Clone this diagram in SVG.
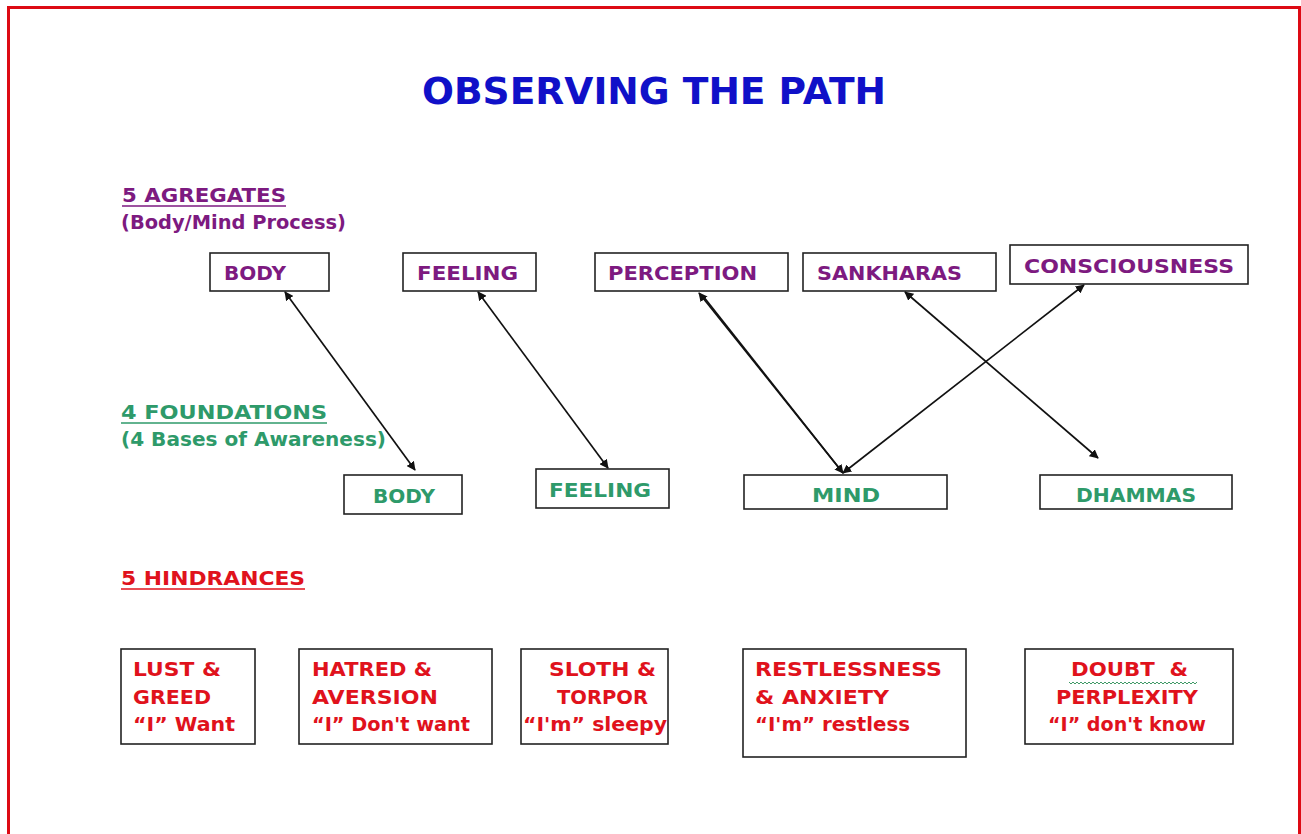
<svg xmlns="http://www.w3.org/2000/svg" width="1301" height="834" viewBox="0 0 1301 834">
<style>
  text { font-family: "DejaVu Sans", "Liberation Sans", sans-serif; font-weight: bold; }
  .title { fill: #1010c8; font-size: 38px; }
  .pur { fill: #7d1a80; font-size: 20px; }
  .grn { fill: #2e9a6a; font-size: 20px; }
  .red { fill: #e0121c; font-size: 20px; }
  .box { fill: #ffffff; stroke: #222222; stroke-width: 1.6; }
  .conn { stroke: #111111; stroke-width: 1.7; fill: none; }
  .ulp { stroke: #7d1a80; stroke-width: 1.5; }
  .ulg { stroke: #2e9a6a; stroke-width: 1.5; }
  .ulr { stroke: #e0121c; stroke-width: 1.5; }
</style>
<defs>
  <marker id="ah" viewBox="0 0 10 10" refX="9" refY="5" markerWidth="9" markerHeight="9" markerUnits="userSpaceOnUse" orient="auto-start-reverse">
    <path d="M0,0 L10,5 L0,10 z" fill="#111111"/>
  </marker>
</defs>
<rect x="0" y="0" width="1301" height="834" fill="#ffffff"/>
<path d="M8.5,834 L8.5,7.5 L1299.5,7.5 L1299.5,834" fill="none" stroke="#dd0a14" stroke-width="3"/>

<text class="title" x="422" y="104" textLength="464" lengthAdjust="spacingAndGlyphs">OBSERVING THE PATH</text>

<g id="heading-aggregates">
  <text class="pur" x="122" y="202" textLength="164" lengthAdjust="spacingAndGlyphs">5 AGREGATES</text>
  <line class="ulp" x1="122" y1="206" x2="286" y2="206"/>
  <text class="pur" x="121" y="229" textLength="225" lengthAdjust="spacingAndGlyphs">(Body/Mind Process)</text>
</g>

<g id="heading-foundations">
  <text class="grn" x="121" y="419" textLength="206" lengthAdjust="spacingAndGlyphs">4 FOUNDATIONS</text>
  <line class="ulg" x1="121" y1="423" x2="327" y2="423"/>
  <text class="grn" x="121" y="446" textLength="265" lengthAdjust="spacingAndGlyphs">(4 Bases of Awareness)</text>
</g>

<g id="heading-hindrances">
  <text class="red" x="121" y="585" textLength="184" lengthAdjust="spacingAndGlyphs">5 HINDRANCES</text>
  <line class="ulr" x1="121" y1="589" x2="305" y2="589"/>
</g>

<g id="agg-body">
  <rect class="box" x="210" y="253" width="119" height="38"/>
  <text class="pur" x="224" y="280" textLength="62" lengthAdjust="spacingAndGlyphs">BODY</text>
</g>
<g id="agg-feeling">
  <rect class="box" x="403" y="253" width="133" height="38"/>
  <text class="pur" x="417" y="280" textLength="101" lengthAdjust="spacingAndGlyphs">FEELING</text>
</g>
<g id="agg-perception">
  <rect class="box" x="595" y="253" width="193" height="38"/>
  <text class="pur" x="608" y="280" textLength="149" lengthAdjust="spacingAndGlyphs">PERCEPTION</text>
</g>
<g id="agg-sankharas">
  <rect class="box" x="803" y="253" width="193" height="38"/>
  <text class="pur" x="817" y="280" textLength="145" lengthAdjust="spacingAndGlyphs">SANKHARAS</text>
</g>
<g id="agg-consciousness">
  <rect class="box" x="1010" y="245" width="238" height="39"/>
  <text class="pur" x="1024" y="273" textLength="210" lengthAdjust="spacingAndGlyphs">CONSCIOUSNESS</text>
</g>

<g id="fnd-body">
  <rect class="box" x="344" y="475" width="118" height="39"/>
  <text class="grn" x="373" y="503" textLength="62" lengthAdjust="spacingAndGlyphs">BODY</text>
</g>
<g id="fnd-feeling">
  <rect class="box" x="536" y="469" width="133" height="39"/>
  <text class="grn" x="549" y="497" textLength="102" lengthAdjust="spacingAndGlyphs">FEELING</text>
</g>
<g id="fnd-mind">
  <rect class="box" x="744" y="475" width="203" height="34"/>
  <text class="grn" x="812" y="502" textLength="68" lengthAdjust="spacingAndGlyphs">MIND</text>
</g>
<g id="fnd-dhammas">
  <rect class="box" x="1040" y="475" width="192" height="34"/>
  <text class="grn" x="1076" y="502" textLength="120" lengthAdjust="spacingAndGlyphs">DHAMMAS</text>
</g>

<g id="hin-lust">
  <rect class="box" x="121" y="649" width="134" height="95"/>
  <text class="red" x="133" y="676" textLength="88" lengthAdjust="spacingAndGlyphs">LUST &amp;</text>
  <text class="red" x="133" y="704" textLength="78" lengthAdjust="spacingAndGlyphs">GREED</text>
  <text class="red" x="133" y="731" textLength="102" lengthAdjust="spacingAndGlyphs">“I” Want</text>
</g>
<g id="hin-hatred">
  <rect class="box" x="299" y="649" width="193" height="95"/>
  <text class="red" x="312" y="676" textLength="120" lengthAdjust="spacingAndGlyphs">HATRED &amp;</text>
  <text class="red" x="312" y="704" textLength="126" lengthAdjust="spacingAndGlyphs">AVERSION</text>
  <text class="red" x="312" y="731" textLength="158" lengthAdjust="spacingAndGlyphs">“I” Don't want</text>
</g>
<g id="hin-sloth">
  <rect class="box" x="521" y="649" width="147" height="95"/>
  <text class="red" x="549" y="676" textLength="107" lengthAdjust="spacingAndGlyphs">SLOTH &amp;</text>
  <text class="red" x="557" y="704" textLength="91" lengthAdjust="spacingAndGlyphs">TORPOR</text>
  <text class="red" x="523" y="731" textLength="144" lengthAdjust="spacingAndGlyphs">“I'm” sleepy</text>
</g>
<g id="hin-restlessness">
  <rect class="box" x="743" y="649" width="223" height="108"/>
  <text class="red" x="755" y="676" textLength="187" lengthAdjust="spacingAndGlyphs">RESTLESSNESS</text>
  <text class="red" x="755" y="704" textLength="134" lengthAdjust="spacingAndGlyphs">&amp; ANXIETY</text>
  <text class="red" x="755" y="731" textLength="155" lengthAdjust="spacingAndGlyphs">“I'm” restless</text>
</g>
<g id="hin-doubt">
  <rect class="box" x="1025" y="649" width="208" height="95"/>
  <text class="red" x="1071" y="676" textLength="117" lengthAdjust="spacingAndGlyphs" xml:space="preserve">DOUBT  &amp;</text>
  <path d="M1069,682 l2,2 l2,-2 l2,2 l2,-2 l2,2 l2,-2 l2,2 l2,-2 l2,2 l2,-2 l2,2 l2,-2 l2,2 l2,-2 l2,2 l2,-2 l2,2 l2,-2 l2,2 l2,-2 l2,2 l2,-2 l2,2 l2,-2 l2,2 l2,-2 l2,2 l2,-2 l2,2 l2,-2 l2,2 l2,-2 l2,2 l2,-2 l2,2 l2,-2 l2,2 l2,-2 l2,2 l2,-2 l2,2 l2,-2 l2,2 l2,-2 l2,2 l2,-2 l2,2 l2,-2 l2,2 l2,-2 l2,2 l2,-2 l2,2 l2,-2 l2,2 l2,-2 l2,2 l2,-2 l2,2 l2,-2 l2,2 l2,-2 l2,2 l2,-2" fill="none" stroke="#3f9a66" stroke-width="1"/>
  <text class="red" x="1056" y="704" textLength="142" lengthAdjust="spacingAndGlyphs">PERPLEXITY</text>
  <text class="red" x="1048" y="731" textLength="158" lengthAdjust="spacingAndGlyphs">“I” don't know</text>
</g>

<g id="connectors">
  <line class="conn" x1="285" y1="292" x2="415" y2="470" marker-start="url(#ah)" marker-end="url(#ah)"/>
  <line class="conn" x1="478" y1="292" x2="608" y2="468" marker-start="url(#ah)" marker-end="url(#ah)"/>
  <line class="conn" x1="699" y1="293" x2="843" y2="473" marker-start="url(#ah)" marker-end="url(#ah)"/>
  <line class="conn" x1="703" y1="296" x2="843" y2="473"/>
  <line class="conn" x1="1084" y1="285" x2="843" y2="473" marker-start="url(#ah)" marker-end="url(#ah)"/>
  <line class="conn" x1="905" y1="292" x2="1098" y2="458" marker-start="url(#ah)" marker-end="url(#ah)"/>
</g>
</svg>
